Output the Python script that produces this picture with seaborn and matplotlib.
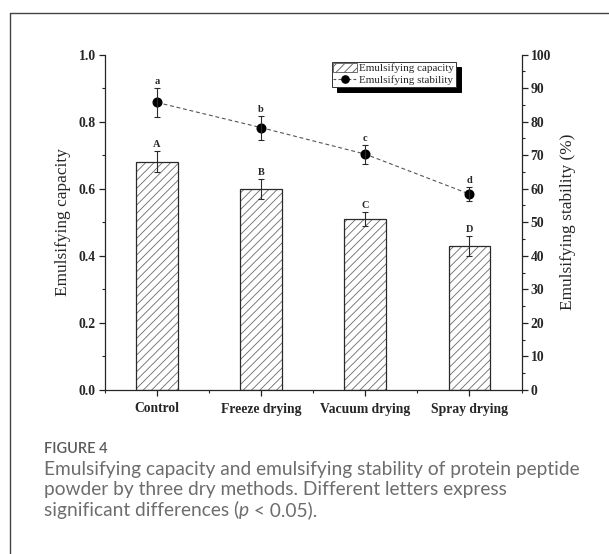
import numpy as np
import pandas as pd
import matplotlib
matplotlib.use("Agg")
import matplotlib.pyplot as plt
from matplotlib.lines import Line2D
from matplotlib.patches import Patch
from matplotlib.ticker import MultipleLocator, FixedLocator
import seaborn as sns

# ---- data ----
categories = ["Control", "Freeze drying", "Vacuum drying", "Spray drying"]
capacity = [0.68, 0.60, 0.51, 0.43]
capacity_err = [0.031, 0.030, 0.020, 0.030]
capacity_letters = ["A", "B", "C", "D"]
stability = [85.7, 78.2, 70.3, 58.4]
stability_err = [4.4, 3.6, 2.8, 2.1]
stability_letters = ["a", "b", "c", "d"]
left_ticks = [0.0, 0.2, 0.4, 0.6, 0.8, 1.0]
right_ticks = [0, 10, 20, 30, 40, 50, 60, 70, 80, 90, 100]

caption_title = "FIGURE 4"
caption_line1 = "Emulsifying capacity and emulsifying stability of protein peptide"
caption_line2 = "powder by three dry methods. Different letters express"
caption_line3 = ["significant differences (", "p", " < 0.05)."]

sns.set_style("ticks")
plt.rcParams["font.family"] = ["Liberation Serif", "DejaVu Serif"]
plt.rcParams["hatch.linewidth"] = 0.6
plt.rcParams["axes.linewidth"] = 0.9

df = pd.DataFrame({"cat": categories, "cap": capacity, "stab": stability})

fig = plt.figure(figsize=(6.09, 5.54), dpi=100)
ax = fig.add_axes([105 / 609, 1 - 390 / 554, 416.5 / 609, 335.5 / 554])

# hatched bars (gray hatch), then dark outline
sns.barplot(data=df, x="cat", y="cap", ax=ax, width=0.4, color="white",
            edgecolor="#6a6a6a", hatch="////", linewidth=0, errorbar=None)
sns.barplot(data=df, x="cat", y="cap", ax=ax, width=0.4, fill=False,
            edgecolor="#2a2a2a", linewidth=0.9, errorbar=None)
ax.errorbar(x=np.arange(len(categories)), y=capacity, yerr=capacity_err,
            fmt="none", ecolor="#2a2a2a", elinewidth=0.8, capsize=2.2,
            capthick=0.8, zorder=5)

ax2 = ax.twinx()
sns.pointplot(data=df, x="cat", y="stab", ax=ax2, color="black",
              errorbar=None, marker="o", linestyle="--")
for ln in ax2.lines:
    ln.set_color("#555555")
    ln.set_linewidth(0.8)
    ln.set_dashes([3.5, 2.5])
    ln.set_marker("o")
    ln.set_markersize(5.2)
    ln.set_markerfacecolor("black")
    ln.set_markeredgecolor("black")
ax2.errorbar(x=np.arange(len(categories)), y=stability, yerr=stability_err,
             fmt="none", ecolor="#2a2a2a", elinewidth=0.8, capsize=2.2,
             capthick=0.8, zorder=5)

# letters
for i, (v, e, t) in enumerate(zip(capacity, capacity_err, capacity_letters)):
    ax.text(i, v + e + 0.006, t, ha="center", va="bottom", fontsize=7.5,
            fontweight="bold")
for i, (v, e, t) in enumerate(zip(stability, stability_err, stability_letters)):
    ax2.text(i, v + e + 0.6, t, ha="center", va="bottom", fontsize=7.5,
             fontweight="bold")

# axes settings
ax.set_xlim(-0.5, 3.5)
ax.set_ylim(0, 1.0)
ax2.set_ylim(0, 100)
ax.yaxis.set_major_locator(FixedLocator(left_ticks))
ax.yaxis.set_minor_locator(MultipleLocator(0.1))
ax.set_yticklabels([f"{t:.1f}" for t in left_ticks])
ax2.yaxis.set_major_locator(FixedLocator(right_ticks))
ax2.yaxis.set_minor_locator(MultipleLocator(5))
ax2.set_yticklabels([str(t) for t in right_ticks])
ax.xaxis.set_minor_locator(FixedLocator([-0.5, 0.5, 1.5, 2.5, 3.5]))
ax.set_xticks(range(len(categories)))
ax.set_xticklabels(categories)

for a in (ax, ax2):
    a.spines["top"].set_visible(False)
    a.tick_params(which="major", length=4.5, width=0.9, direction="out",
                  labelsize=9.8, color="#222222", pad=2)
    a.tick_params(which="minor", length=2.5, width=0.8, direction="out",
                  color="#222222")
    for lab in a.get_yticklabels():
        lab.set_fontweight("bold")
ax.tick_params(axis="x", which="major", length=4, pad=5)
ax.tick_params(axis="x", which="minor", length=2.5)
for lab in ax.get_xticklabels():
    lab.set_fontweight("bold")
ax2.tick_params(axis="x", which="both", bottom=False, labelbottom=False)
ax2.spines["left"].set_visible(False)
ax2.spines["bottom"].set_visible(False)
ax.spines["right"].set_visible(False)
ax2.set_xlabel("")
ax.set_xlabel("")

ax.set_ylabel("Emulsifying capacity", fontsize=12.4)
ax.yaxis.set_label_coords((63 - 105) / 416.5, 0.5)
ax.yaxis.label.set_verticalalignment("center")
ax2.set_ylabel("Emulsifying stability (%)", fontsize=12.4, rotation=90)
ax2.yaxis.set_label_coords((568 - 105) / 416.5, 0.5)
ax2.yaxis.label.set_verticalalignment("center")

# legend
handles = [
    Patch(facecolor="white", edgecolor="#555555", hatch="////", linewidth=0.6),
    Line2D([], [], color="#555555", linestyle="--", dashes=[2.5, 2],
           linewidth=0.8, marker="o", markersize=5.2,
           markerfacecolor="black", markeredgecolor="black"),
]
leg = ax2.legend(handles, ["Emulsifying capacity", "Emulsifying stability"],
                 loc="upper left", bbox_to_anchor=(331.7 / 609, 1 - 61.7 / 554),
                 bbox_transform=fig.transFigure, borderaxespad=0,
                 borderpad=0.15, handlelength=2.1, handleheight=0.8,
                 handletextpad=0.25, labelspacing=0.12, fontsize=8,
                 frameon=True, fancybox=False,
                 shadow={"ox": 3.6, "oy": -3.6, "facecolor": "black",
                         "edgecolor": "black", "alpha": 1})
leg.get_frame().set_edgecolor("#333333")
leg.get_frame().set_linewidth(0.7)
leg.get_frame().set_alpha(1)

# card border
fig.add_artist(Line2D([9.5 / 609, 9.5 / 609], [0, 1 - 12.5 / 554],
                      transform=fig.transFigure, color="#444444", lw=1.0))
fig.add_artist(Line2D([9.5 / 609, 1], [1 - 12.5 / 554, 1 - 12.5 / 554],
                      transform=fig.transFigure, color="#444444", lw=1.0))

# caption
renderer = fig.canvas.get_renderer()
cap_font = ["Lato", "DejaVu Sans"]
x0 = 43.5 / 609


def fit_size(txt, target_px, **kw):
    t = fig.text(0, 0, txt, fontsize=10, **kw)
    w = t.get_window_extent(renderer).width
    t.remove()
    return 10 * target_px / w


title_size = fit_size(caption_title, 63, family=cap_font, fontweight="semibold")
fig.text(x0, 1 - 453 / 554, caption_title, family=cap_font,
         fontsize=title_size, fontweight="semibold", color="#5a5a5a",
         ha="left", va="baseline")

cap_color = "#6d6d6d"
cap_size = fit_size(caption_line1, 535, family=cap_font)
baselines = [474.5, 495.2, 515.8]
for txt, b in zip([caption_line1, caption_line2], baselines[:2]):
    fig.text(x0, 1 - b / 554, txt, family=cap_font, fontsize=cap_size,
             color=cap_color, ha="left", va="baseline")

xpix = 43.5
for k, part in enumerate(caption_line3):
    t = fig.text(xpix / 609, 1 - baselines[2] / 554, part, family=cap_font,
                 fontsize=cap_size, color=cap_color, ha="left",
                 va="baseline", style="italic" if k == 1 else "normal")
    xpix += t.get_window_extent(renderer).width

fig.savefig("out.png", dpi=100)
